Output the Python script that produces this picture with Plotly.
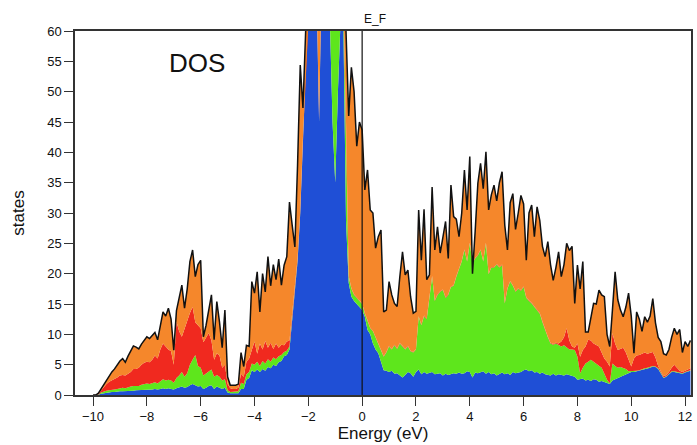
import numpy as np
import plotly.graph_objects as go

# Energy grid (eV), 0.1 eV spacing from -10.0 to 12.2
energy = np.round(np.arange(-10.0, 12.2001, 0.1), 2)

# Cumulative boundaries (states)
blue_top = [
    0, 0, 0.05, 0.2, 0.3, 0.4, 0.4, 0.5, 0.5, 0.6,
    0.6, 0.6, 0.6, 0.7, 0.7, 0.7, 0.8, 0.8, 0.8, 0.8,
    0.9, 0.9, 0.9, 1.0, 0.9, 1.0, 1.1, 1.0, 1.1, 1.0,
    0.9, 1.1, 1.2, 1.4, 1.2, 1.3, 1.6, 1.8, 1.6, 1.4,
    1.5, 1.0, 1.2, 1.5, 1.6, 1.0, 1.4, 1.2, 1.0, 1.2,
    0.4, 0.3, 0.3, 0.3, 0.3, 1.0, 1.0, 2.5, 2.8, 4.1,
    3.8, 4.2, 3.8, 4.3, 4.0, 4.6, 4.4, 5.0, 4.8, 5.4,
    5.6, 6.4, 6.6, 7.5, 12.6, 17.6, 22.0, 30.0, 42.0, 52.0,
    65, 70, 72, 68, 45, 70, 72, 70, 62, 45,
    35, 50, 62, 62, 28.8, 18.5, 16.2, 15.5, 15.0, 14.5,
    14.0, 12.9, 10.7, 10.0, 8.5, 7.5, 6.9, 5.5, 4.1, 4.0,
    3.8, 4.0, 3.5, 3.6, 3.2, 2.9, 3.3, 3.8, 3.6, 3.0,
    3.8, 4.2, 3.4, 3.8, 3.5, 3.6, 3.8, 3.4, 3.5, 3.6,
    3.2, 3.5, 3.3, 3.4, 3.6, 3.5, 3.7, 3.5, 3.6, 3.9,
    3.8, 2.9, 3.7, 3.6, 3.8, 3.9, 3.5, 3.8, 3.4, 3.6,
    3.2, 3.5, 3.7, 3.4, 3.6, 3.3, 3.8, 3.6, 3.7, 3.8,
    4.1, 4.2, 3.9, 4.1, 3.7, 3.8, 3.5, 3.7, 3.4, 3.3,
    3.2, 3.5, 3.2, 3.4, 3.3, 3.2, 3.4, 3.3, 3.2, 3.0,
    2.5, 2.6, 2.7, 2.4, 2.5, 2.3, 2.6, 2.5, 2.2, 2.3,
    2.1, 2.0, 1.8, 2.4, 2.6, 2.8, 3.0, 3.2, 3.4, 3.6,
    3.8, 3.8, 3.9, 4.0, 4.2, 4.3, 4.4, 4.5, 4.7, 4.6,
    4.3, 3.6, 2.8, 3.0, 3.4, 3.8, 3.8, 3.7, 3.6, 3.5,
    3.7, 3.9, 4.0,
]

green_top = [
    0, 0, 0.1, 0.4, 0.6, 0.7, 0.8, 0.8, 0.9, 1.0,
    1.1, 1.2, 1.1, 1.3, 1.4, 1.5, 1.5, 1.5, 1.7, 1.8,
    1.9, 1.8, 2.0, 2.1, 1.9, 2.3, 2.6, 2.4, 2.5, 2.4,
    2.0, 2.8, 3.2, 3.8, 3.0, 3.6, 5.0, 5.8, 6.6, 4.8,
    4.5, 3.2, 3.5, 3.9, 4.2, 3.0, 3.3, 3.0, 2.4, 2.6,
    0.8, 0.5, 0.5, 0.5, 0.6, 2.0, 1.8, 3.4, 3.8, 5.2,
    5.0, 5.5, 4.8, 5.6, 5.2, 5.9, 5.5, 6.2, 5.9, 6.4,
    6.6, 7.1, 7.3, 8.0, 12.8, 17.8, 22.2, 30.2, 42.2, 52.2,
    65.2, 70.2, 72.2, 68.2, 45.2, 70.2, 72.2, 72, 72, 70,
    65, 68, 68, 65, 45, 19.5, 17.5, 16.5, 16.0, 15.5,
    15.0, 13.4, 12.0, 11.0, 10.5, 9.5, 8.5, 7.5, 6.3, 7.0,
    8.0, 7.5, 8.2, 7.6, 8.5, 8.0, 7.5, 8.0, 7.2, 7.0,
    7.5, 12.9, 11.5, 13.0, 12.5, 16.0, 19.5, 15.5, 16.5, 17.0,
    17.3, 16.0, 16.5, 17.8, 18.0, 19.5, 20.6, 22.0, 23.9, 22.0,
    25.0, 21.7, 22.5, 23.0, 23.9, 22.0, 25.0, 19.9, 21.0, 21.0,
    21.5, 21.0, 21.4, 15.1, 17.5, 18.7, 18.0, 17.0, 17.5, 17.2,
    17.8, 16.0, 15.5, 15.1, 14.5, 14.0, 13.4, 12.0, 10.7, 9.5,
    8.5, 8.3, 8.5, 8.2, 8.0, 8.2, 7.8, 7.5, 7.5, 7.4,
    6.3, 3.6, 4.5, 5.2, 5.5, 5.8, 5.5, 5.2, 4.8, 4.5,
    3.5, 2.5, 1.9, 5.2, 4.8, 4.5, 4.6, 4.5, 4.3, 3.9,
    3.9, 3.9, 4.0, 4.1, 4.3, 4.4, 4.5, 4.6, 4.8, 4.7,
    4.4, 3.7, 2.9, 3.1, 3.5, 3.9, 3.9, 3.8, 3.7, 3.6,
    3.8, 4.0, 4.1,
]

red_top = [
    0, 0, 0.2, 0.8, 1.3, 1.8, 2.2, 2.4, 2.6, 2.9,
    3.2, 3.3, 3.2, 3.5, 3.8, 4.3, 4.3, 4.5, 5.0, 5.3,
    5.5, 5.4, 5.8, 6.5, 6.0, 7.5, 8.5, 8.0, 7.5, 7.2,
    5.0, 12.1, 10.5, 9.6, 11.0, 12.4, 13.5, 14.5, 12.0, 11.5,
    11.0, 8.7, 9.5, 10.2, 9.0, 5.8, 6.9, 6.5, 4.5, 5.0,
    1.8, 1.1, 1.0, 1.0, 1.2, 3.5, 3.0, 5.5, 6.0, 7.5,
    8.8, 6.8, 8.5, 7.5, 8.9, 7.8, 8.6, 7.6, 8.5, 7.8,
    8.3, 8.2, 8.8, 9.0, 13.0, 18.0, 22.4, 30.4, 42.4, 52.4,
    65.4, 70.4, 72.4, 68.4, 45.4, 70.4, 72.4, 72.2, 72.2, 70.2,
    65.2, 68.2, 68.2, 65.2, 45.2, 19.6, 17.6, 16.6, 16.1, 15.6,
    15.1, 13.5, 12.1, 11.1, 10.6, 9.6, 8.6, 7.6, 6.4, 7.1,
    8.1, 7.6, 8.3, 7.7, 8.6, 8.1, 7.6, 8.1, 7.3, 7.1,
    7.6, 13.0, 11.6, 13.1, 12.6, 16.1, 19.6, 15.6, 16.6, 17.1,
    17.4, 16.1, 16.6, 17.9, 18.1, 19.6, 20.7, 22.1, 24.0, 22.1,
    25.1, 21.8, 22.6, 23.1, 24.0, 22.1, 25.1, 20.0, 21.1, 21.1,
    21.6, 21.1, 21.5, 15.2, 17.6, 18.8, 18.1, 17.1, 17.6, 17.3,
    17.9, 16.1, 15.6, 15.2, 14.6, 14.1, 13.5, 12.1, 10.8, 9.6,
    8.6, 8.4, 8.6, 8.5, 8.8, 9.5, 11.0, 9.0, 8.0, 7.8,
    8.5, 6.3, 7.4, 8.0, 9.1, 9.0, 8.5, 8.2, 8.0, 7.0,
    6.0, 5.5, 4.7, 10.2, 8.5, 7.4, 7.6, 7.8, 7.0, 6.0,
    4.7, 6.0, 6.5, 6.6, 6.8, 7.0, 6.8, 7.0, 7.1, 6.2,
    4.8, 3.9, 3.1, 3.3, 3.8, 4.5, 5.0, 4.5, 4.0, 3.8,
    4.0, 4.3, 4.4,
]

total_dos = [
    0, 0, 0.3, 1.0, 1.8, 2.6, 3.3, 3.8, 4.3, 5.0,
    5.6, 6.0, 5.4, 6.4, 7.3, 8.1, 7.9, 7.6, 8.4, 9.0,
    9.6, 9.3, 9.9, 10.3, 9.1, 11.5, 13.7, 13.0, 14.3, 12.5,
    7.4, 13.9, 16.0, 18.1, 14.3, 17.5, 22.0, 23.9, 19.5, 21.5,
    22.2, 9.6, 11.5, 14.0, 16.5, 9.1, 15.4, 12.0, 7.8, 14.0,
    3.0, 1.6, 1.6, 1.6, 1.8, 7.0, 4.7, 8.2, 8.0, 18.7,
    16.8, 20.3, 13.7, 20.0, 17.0, 22.8, 18.0, 21.5, 19.0, 22.4,
    18.1, 21.4, 22.8, 31.8, 28.0, 24.4, 37.9, 54.4, 47.3, 70,
    80, 85, 85, 85, 85, 85, 85, 85, 80, 75,
    75, 75, 72, 68, 60, 46, 54, 50, 41, 45,
    43.7, 33.8, 37.1, 30.5, 30.0, 24.2, 26.1, 27.2, 13.7, 14.0,
    18.7, 16.5, 15.1, 14.6, 19.5, 23.6, 19.8, 20.6, 16.2, 13.5,
    13.8, 30.5, 22.2, 30.6, 19.0, 19.8, 34.3, 23.9, 27.7, 23.4,
    26.0, 28.6, 22.5, 34.6, 29.4, 29.0, 26.1, 30.0, 37.1, 30.5,
    39.3, 20.0, 27.0, 34.9, 38.2, 34.0, 40.1, 30.5, 33.0, 34.6,
    32.0, 35.0, 36.8, 28.0, 23.9, 31.7, 33.2, 27.3, 30.0, 32.9,
    31.5, 22.2, 30.0, 31.3, 26.1, 31.0, 28.8, 24.5, 22.8, 25.3,
    21.5, 18.9, 21.0, 23.6, 19.5, 21.5, 25.0, 23.8, 24.5, 15.1,
    21.4, 17.5, 22.0, 10.4, 10.4, 12.5, 15.1, 15.0, 17.3, 16.5,
    16.2, 10.0, 8.0, 14.0, 20.3, 15.7, 14.0, 12.9, 14.5, 16.8,
    13.0, 6.9, 13.7, 12.5, 10.5, 12.9, 12.0, 13.0, 15.9, 11.9,
    9.5, 8.8, 6.8, 6.6, 7.5, 9.5, 11.0, 10.0, 10.8, 7.0,
    8.8, 8.0, 9.0,
]

x_ticks = [-10, -8, -6, -4, -2, 0, 2, 4, 6, 8, 10, 12]
y_ticks = [0, 5, 10, 15, 20, 25, 30, 35, 40, 45, 50, 55, 60]

BLUE = "#1f4fd6"
GREEN = "#5ee61c"
RED = "#f0291f"
ORANGE = "#f5872b"
FONT = "Liberation Sans, Arial, sans-serif"

fig = go.Figure()
layers = [(blue_top, BLUE, "tozeroy"), (green_top, GREEN, "tonexty"),
          (red_top, RED, "tonexty"), (total_dos, ORANGE, "tonexty")]
for ys, col, fl in layers:
    fig.add_trace(go.Scatter(x=energy, y=ys, mode="lines", fill=fl,
                             fillcolor=col, line=dict(width=0, color=col),
                             hoverinfo="skip", showlegend=False))
fig.add_trace(go.Scatter(x=energy, y=total_dos, mode="lines",
                         line=dict(color="#111111", width=1.5),
                         showlegend=False))

fig.add_shape(type="line", x0=0, x1=0, xref="x", y0=0, y1=1, yref="paper",
              line=dict(color="#111111", width=1.2))
fig.add_annotation(x=0, y=1, xref="x", yref="paper", text="E_F",
                   showarrow=False, xanchor="left", yanchor="bottom",
                   yshift=3, font=dict(size=12, color="#111111", family=FONT))
fig.add_annotation(x=-6.15, y=54.7, xref="x", yref="y", text="DOS",
                   showarrow=False, xanchor="center", yanchor="middle",
                   font=dict(size=26, color="#111111", family=FONT))

axis_common = dict(showgrid=False, zeroline=False, showline=True,
                   linecolor="#333333", linewidth=1.5, mirror=True,
                   ticks="outside", ticklen=9, tickwidth=1.3,
                   tickcolor="#333333",
                   tickfont=dict(size=13, color="#111111", family=FONT))
fig.update_xaxes(range=[-10.67, 12.22], tickvals=x_ticks,
                 title=dict(text="Energy (eV)", standoff=4,
                            font=dict(size=17, color="#111111", family=FONT)),
                 **axis_common)
fig.update_yaxes(range=[0, 60], tickvals=y_ticks,
                 title=dict(text="states", standoff=18,
                            font=dict(size=17, color="#111111", family=FONT)),
                 **axis_common)
fig.update_layout(width=697, height=445,
                  margin=dict(l=75, r=4, t=31, b=50),
                  plot_bgcolor="white", paper_bgcolor="white",
                  font=dict(family=FONT))
fig.write_html("out.html", config={"displayModeBar": False},
               post_script="document.body.style.margin='0';"
                           "document.body.style.overflow='hidden';")
